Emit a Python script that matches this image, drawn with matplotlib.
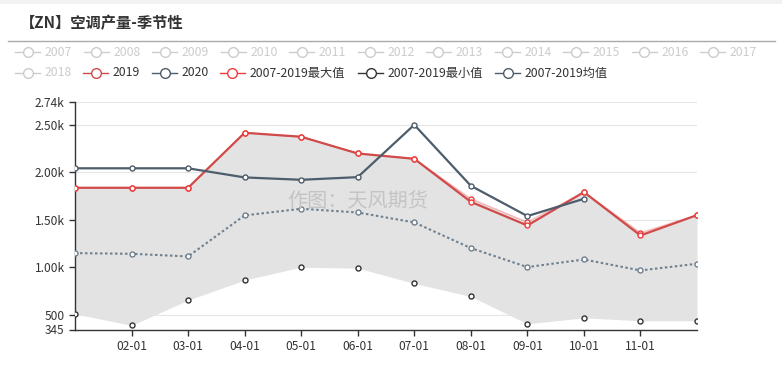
import matplotlib
matplotlib.use('Agg')
import matplotlib.pyplot as plt
from matplotlib.lines import Line2D
from matplotlib.patches import Rectangle

plt.rcParams['font.family'] = ['Noto Sans CJK SC', 'DejaVu Sans']

# data
months = ['01-01', '02-01', '03-01', '04-01', '05-01', '06-01',
          '07-01', '08-01', '09-01', '10-01', '11-01', '12-01']
y2019 = [1837, 1837, 1837, 2416, 2374, 2198, 2142, 1689, 1440, 1791, 1335, 1549]
y2020 = [2042, 2042, 2042, 1946, 1921, 1949, 2500, 1858, 1539, 1721]
ymax = [1837, 1837, 1837, 2416, 2374, 2198, 2142, 1721, 1475, 1791, 1363, 1549]
ymin = [510, 388, 654, 865, 1002, 991, 830, 693, 405, 468, 437, 437]
ymean = [1149, 1142, 1114, 1546, 1616, 1577, 1472, 1202, 1002, 1082, 967, 1037]
yticks = [345, 500, 1000, 1500, 2000, 2500, 2740]
ytick_labels = ['345', '500', '1.00k', '1.50k', '2.00k', '2.50k', '2.74k']

c2019 = '#d14a4a'
c2020 = '#4d5d6b'
cmax = '#f03c3c'
cmin = '#333333'
cmean = '#6f808e'
cgray = '#cccccc'

fig = plt.figure(figsize=(7.82, 3.67), dpi=100)
W, H = 782, 367

# thin grey band at the very top
fig.add_artist(Rectangle((0, 1 - 4 / H), 1, 4 / H, transform=fig.transFigure,
                         color='#f2f2f2', lw=0))

ax = fig.add_axes([75 / W, 1 - 329.5 / H, 622 / W, 227.5 / H])
x = list(range(len(months)))

ax.fill_between(x, ymin, ymax, color='#e3e3e3', lw=0, zorder=1)
mk = dict(marker='o', ms=3.6, mfc='white', mew=1.0)
ax.plot(x, ymax, color=cmax, lw=1, alpha=0.35, zorder=2)
ax.plot(x, ymax, color=cmax, lw=0, **mk, zorder=4)
ax.plot(x, ymin, color=cmin, lw=0, **mk, zorder=4)
ax.plot(x, ymean, color=cmean, lw=1.5, ls=(0, (1.2, 1.2)), **mk, zorder=3)
ax.plot(x, y2019, color=c2019, lw=1.6, **mk, mec=cmax, zorder=5)
ax.plot(x[:len(y2020)], y2020, color=c2020, lw=1.6, **mk, zorder=5)

ax.set_xlim(0, 11)
ax.set_ylim(345, 2740)
ax.set_xticks(x[1:-1])
ax.set_xticklabels(months[1:-1])
ax.set_yticks(yticks)
ax.set_yticklabels(ytick_labels)
ax.tick_params(labelsize=8.6, colors='#333333', length=4, width=1)
for v in yticks[1:]:
    ax.axhline(v, color='#e6e6e6', lw=0.8, zorder=0)
for s in ['top', 'right']:
    ax.spines[s].set_visible(False)
for s in ['left', 'bottom']:
    ax.spines[s].set_color('#333333')
    ax.spines[s].set_linewidth(1)

ax.text(5.0, 1690, '作图：天风期货', fontsize=14.5, color='#c4c4c4',
        ha='center', va='center', zorder=6)

# title and separator
fig.text(20 / W, 1 - 23 / H, '【ZN】空调产量-季节性', fontsize=11, fontweight='bold',
         color='#333333', va='center')
fig.add_artist(Line2D([8 / W, 775 / W], [1 - 41 / H, 1 - 41 / H], color='#aaaaaa', lw=1))

# legend, drawn by hand to keep echarts layout
legend_rows = [
    [(str(y), cgray, False) for y in range(2007, 2018)],
    [('2018', cgray, False), ('2019', c2019, True), ('2020', c2020, True),
     ('2007-2019最大值', cmax, True), ('2007-2019最小值', cmin, True),
     ('2007-2019均值', c2020, True)],
]
row_y = [52, 73]
row2_x = [15, 83, 152, 220, 358, 495]
for r, items in enumerate(legend_rows):
    yy = 1 - row_y[r] / H
    for i, (label, col, on) in enumerate(items):
        x0 = 15 + i * 68.5 if r == 0 else row2_x[i]
        fig.add_artist(Line2D([x0 / W, (x0 + 25) / W], [yy, yy], color=col, lw=1))
        fig.add_artist(Line2D([(x0 + 12.5) / W], [yy], marker='o', ms=7, mfc='white',
                              mec=col, mew=1))
        fig.text((x0 + 30) / W, yy, label, fontsize=8.8, color='#333333' if on else cgray,
                 va='center')

fig.savefig('out.png', dpi=100)
